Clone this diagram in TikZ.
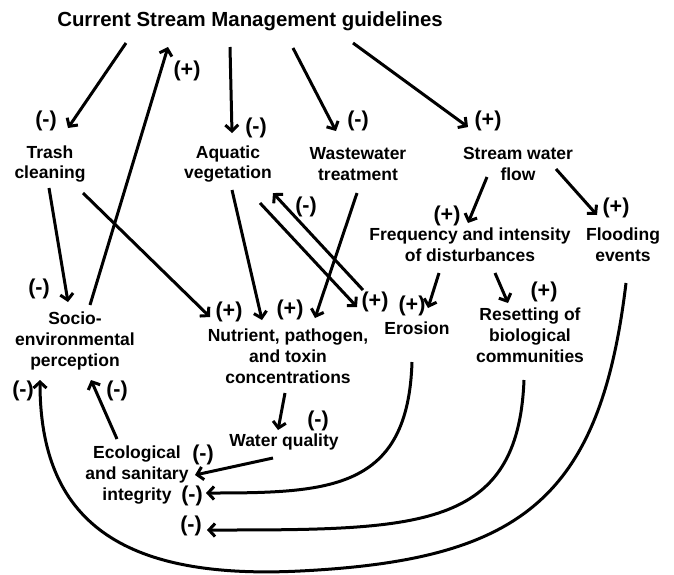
\documentclass[tikz,border=0pt]{standalone}
\usepackage{fontspec}
\setmainfont{Liberation Sans}
\usepackage{tikz}
\usetikzlibrary{arrows.meta, positioning}

\tikzset{
    factor/.style={align=center, inner sep=0pt, font=\fontsize{17.5}{20.8}\selectfont\bfseries},
    sign/.style={inner sep=0pt, font=\fontsize{21.5}{25}\selectfont\bfseries},
    link/.style={-{Straight Barb[length=6pt,width=13pt]}, line width=3pt},
}

\begin{document}
\begin{tikzpicture}[x=1pt, y=-1pt]
    \useasboundingbox (0,0) rectangle (674,574);

    % factors
    \node[factor, font=\fontsize{20.4}{24}\selectfont\bfseries] (guide) at (250,21) {Current Stream Management guidelines};
    \node[factor] (trash) at (50,164) {Trash\\cleaning};
    \node[factor] (veg) at (228,164) {Aquatic\\vegetation};
    \node[factor] (waste) at (358,164) {Wastewater\\treatment};
    \node[factor] (flow) at (518,164) {Stream water\\flow};
    \node[factor] (dist) at (470,245) {Frequency and intensity\\of disturbances};
    \node[factor] (flood) at (623,245) {Flooding\\events};
    \node[factor] (eros) at (417,328) {Erosion};
    \node[factor] (reset) at (530,335) {Resetting of\\biological\\communities};
    \node[factor] (socio) at (75,341) {Socio-\\environmental\\perception};
    \node[factor] (nutr) at (288,356) {Nutrient, pathogen,\\and toxin\\concentrations};
    \node[factor] (wq) at (284,442) {Water quality};
    \node[factor] (eco) at (137,475) {Ecological\\and sanitary\\integrity};
    \coordinate (low) at (300,571);

    % signs
    \node[sign] (s1) at (46,121) {(-)};
    \node[sign] (s2) at (187,71) {(+)};
    \node[sign] (s3) at (256,128) {(-)};
    \node[sign] (s4) at (358,121) {(-)};
    \node[sign] (s5) at (488,121) {(+)};
    \node[sign] (s6) at (447,216) {(+)};
    \node[sign] (s7) at (616,208) {(+)};
    \node[sign] (s8) at (39,289) {(-)};
    \node[sign] (s9) at (229,312) {(+)};
    \node[sign] (s10) at (290,310) {(+)};
    \node[sign] (s11) at (306,207) {(-)};
    \node[sign] (s12) at (375,302) {(+)};
    \node[sign] (s13) at (412,306) {(+)};
    \node[sign] (s14) at (544,292) {(+)};
    \node[sign] (s15) at (318,421) {(-)};
    \node[sign] (s16) at (203,455) {(-)};
    \node[sign] (s17) at (117,391) {(-)};
    \node[sign] (s18) at (23,391) {(-)};
    \node[sign] (s19) at (192,496) {(-)};
    \node[sign] (s20) at (191,526) {(-)};

    % straight links
    \draw[link] ([shift={(-124,22)}]guide.center) -- ([shift={(18,-36)}]trash.center);
    \draw[link] ([shift={(15,-36)}]socio.center) -- ([shift={(-82,26)}]guide.center);
    \draw[link] ([shift={(-20,26)}]guide.center) -- ([shift={(4,-31)}]veg.center);
    \draw[link] ([shift={(43,27)}]guide.center) -- ([shift={(-22,-33)}]waste.center);
    \draw[link] ([shift={(103,22)}]guide.center) -- ([shift={(-50,-37)}]flow.center);
    \draw[link] ([shift={(-31,13)}]flow.center) -- ([shift={(-2,-22)}]dist.center);
    \draw[link] ([shift={(38,5)}]flow.center) -- ([shift={(-26,-30)}]flood.center);
    \draw[link] ([shift={(-31,28)}]dist.center) -- ([shift={(11,-20)}]eros.center);
    \draw[link] ([shift={(25,28)}]dist.center) -- ([shift={(-22,-32)}]reset.center);
    \draw[link] ([shift={(-1,24)}]trash.center) -- ([shift={(-7,-39)}]socio.center);
    \draw[link] ([shift={(33,29)}]trash.center) -- ([shift={(-78,-39)}]nutr.center);
    \draw[link] ([shift={(4,26)}]veg.center) -- ([shift={(-26,-36)}]nutr.center);
    \draw[link] ([shift={(-1,29)}]waste.center) -- ([shift={(27,-38)}]nutr.center);
    \draw[link] ([shift={(32,39)}]veg.center) -- ([shift={(-60,-21)}]eros.center);
    \draw[link] ([shift={(-54,-38)}]eros.center) -- ([shift={(45,29)}]veg.center);
    \draw[link] ([shift={(-3,37)}]nutr.center) -- ([shift={(-6,-12)}]wq.center);
    \draw[link] ([shift={(-11,16)}]wq.center) -- ([shift={(58,0)}]eco.center);
    \draw[link] ([shift={(-20,-36)}]eco.center) -- ([shift={(16,39)}]socio.center);

    % curved links
    \draw[link] ([shift={(-5,34)}]eros.center) .. controls +(-4,128) and +(124,0) .. ([shift={(69,18)}]eco.center);
    \draw[link] ([shift={(-6,45)}]reset.center) .. controls +(-6,150) and +(213,0) .. ([shift={(16,4)}]s20.center);
    \draw[link] ([shift={(3,38)}]flood.center) .. controls +(-26,217) and +(220,-11) .. (low)
        .. controls +(-180,9) and +(0,140) .. ([shift={(-35,39)}]socio.center);

\end{tikzpicture}
\end{document}
